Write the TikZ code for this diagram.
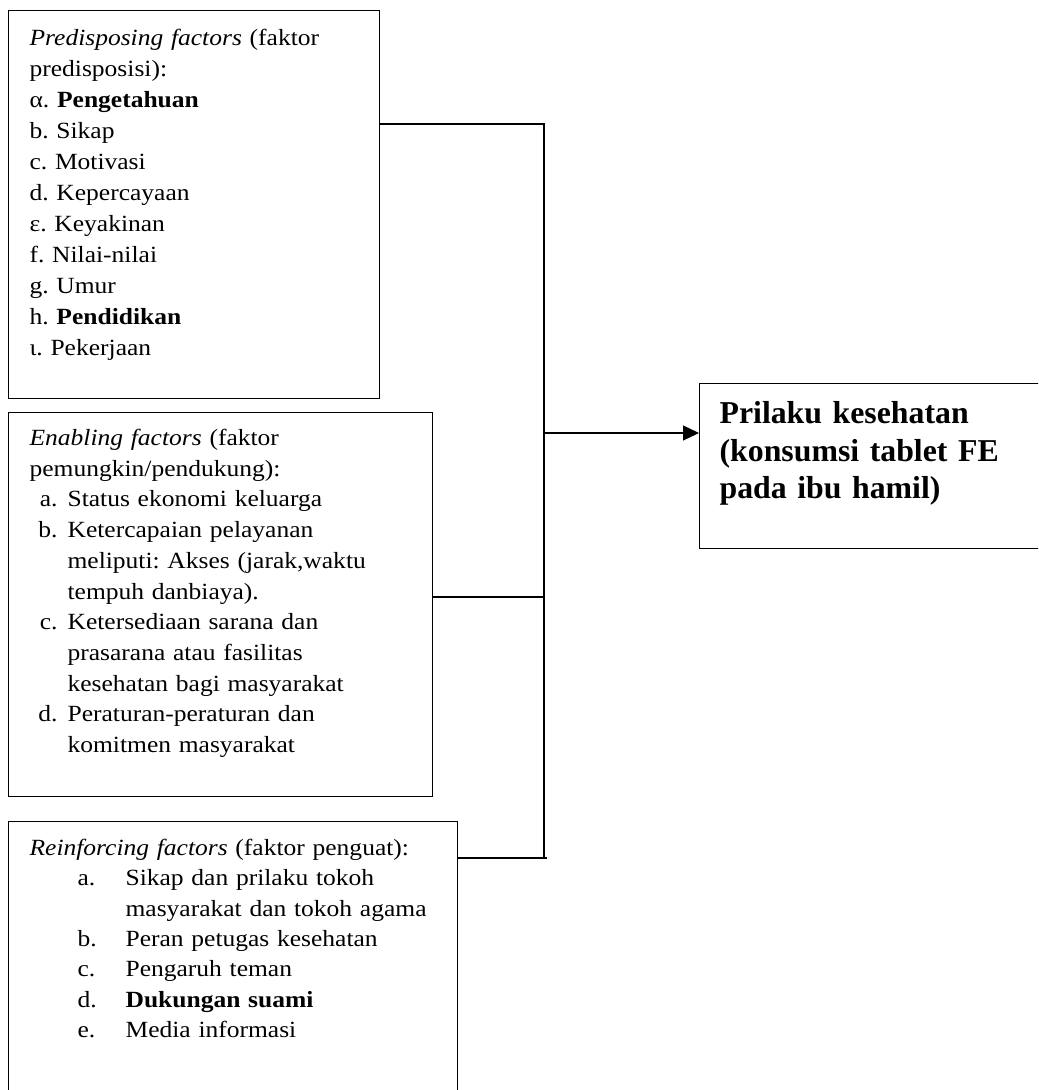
\documentclass[tikz,border=0pt]{standalone}
\usepackage{fontspec}
\setmainfont{Liberation Serif}[FakeStretch=1.10]
\newfontfamily\outfont{Liberation Serif}
\usetikzlibrary{arrows.meta,positioning}
\tikzstyle{factor} = [rectangle, draw, anchor=north west, align=left,
    inner xsep=10.5pt, inner ysep=0pt,
    font=\fontsize{11.6}{15.5}\selectfont\frenchspacing]
\tikzstyle{outcome} = [factor, inner xsep=10pt,
    font=\outfont\fontsize{15.9}{18.75}\selectfont\bfseries\frenchspacing]
% list labels: right-aligned (enabling) and left-aligned (reinforcing)
\newcommand{\lbl}[1]{\makebox[14pt][r]{#1}\hspace{5pt}}
\newcommand{\cont}{\hspace*{19pt}}
\newcommand{\rlbl}[1]{\hspace*{24pt}\makebox[24pt][l]{#1}}
\newcommand{\rcont}{\hspace*{48pt}}

\begin{document}
\begin{tikzpicture}[x=0.5pt,y=-0.5pt,semithick,
                    >={Triangle[length=8pt,width=7.5pt]}]
  \useasboundingbox (0,0) rectangle (1038,1090);
  \clip (0,0) rectangle (1038,1090);

  \node[factor, text width=164.5pt, text height=17.5pt, text depth=176.5pt]
    (pre) at (8,10) {\textit{Predisposing factors} (faktor\\
      predisposisi):\\
      α. \textbf{Pengetahuan}\\
      b. Sikap\\
      c. Motivasi\\
      d. Kepercayaan\\
      ε. Keyakinan\\
      f. Nilai-nilai\\
      g. Umur\\
      h. \textbf{Pendidikan}\\
      ι. Pekerjaan};
  \node[factor, text width=191pt, text height=16.5pt, text depth=175.5pt,
        font=\fontsize{11.6}{15.35}\selectfont\frenchspacing]
    (enab) at (8,412) {\textit{Enabling factors} (faktor\\
      pemungkin/pendukung):\\
      \lbl{a.}Status ekonomi keluarga\\
      \lbl{b.}Ketercapaian pelayanan\\
      \cont meliputi: Akses (jarak,waktu\\
      \cont tempuh danbiaya).\\
      \lbl{c.}Ketersediaan sarana dan\\
      \cont prasarana atau fasilitas\\
      \cont kesehatan bagi masyarakat\\
      \lbl{d.}Peraturan-peraturan dan\\
      \cont komitmen masyarakat};
  \node[factor, text width=203.5pt, text height=17pt, text depth=122.5pt,
        font=\fontsize{11.6}{15.15}\selectfont\frenchspacing]
    (reinf) at (8,821) {\textit{Reinforcing factors} (faktor penguat):\\
      \rlbl{a.}Sikap dan prilaku tokoh\\
      \rcont masyarakat dan tokoh agama\\
      \rlbl{b.}Peran petugas kesehatan\\
      \rlbl{c.}Pengaruh teman\\
      \rlbl{d.}\textbf{Dukungan suami}\\
      \rlbl{e.}Media informasi};
  \node[outcome, text width=153pt, text height=20pt, text depth=62.5pt]
    (prilaku) at (699,383) {Prilaku kesehatan\\
      (konsumsi tablet FE\\
      pada ibu hamil)};

  \coordinate (s1) at (544,124);
  \coordinate (s2) at (544,433);
  \coordinate (s3) at (544,597);
  \coordinate (s4) at (544,858);

  \draw (pre.east |- s1) -- (s1) -- (s4);
  \draw (enab.east |- s3) -- (s3);
  \draw (reinf.east |- s4) -- (s4) -- ++(3,0);
  \draw[->] (s2) -- (s2 -| prilaku.west);
\end{tikzpicture}
\end{document}
